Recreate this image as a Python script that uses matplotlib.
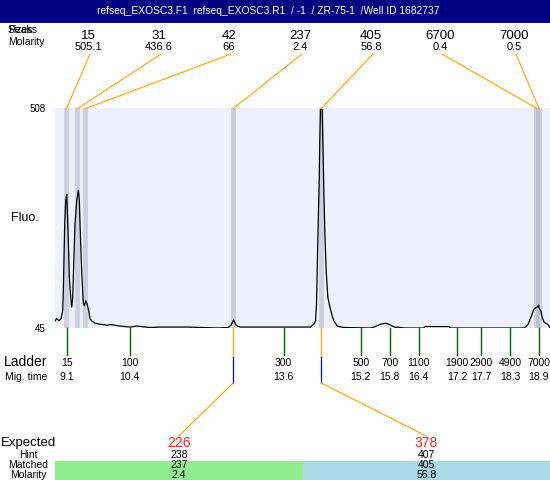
import matplotlib
matplotlib.use("Agg")
import matplotlib.pyplot as plt
from matplotlib.patches import Rectangle

plt.rcParams['font.family'] = ['Liberation Sans', 'DejaVu Sans']

# ---------------- data ----------------
title = "refseq_EXOSC3.F1  refseq_EXOSC3.R1  / -1  / ZR-75-1  /Well ID 1682737"

peak_sizes = ["15", "31", "42", "237", "405", "6700", "7000"]
peak_molarity = ["505.1", "436.6", "66", "2.4", "56.8", "0.4", "0.5"]
peak_times = [9.09, 9.32, 9.49, 12.55, 14.38, 18.86, 18.90]

ladder_sizes = ["15", "100", "300", "500", "700", "1100", "1900", "2900", "4900", "7000"]
ladder_times = [9.1, 10.4, 13.6, 15.2, 15.8, 16.4, 17.2, 17.7, 18.3, 18.9]
ladder_time_labels = ["9.1", "10.4", "13.6", "15.2", "15.8", "16.4", "17.2", "17.7", "18.3", "18.9"]

expected = ["226", "378"]
hint = ["238", "407"]
matched = ["237", "405"]
matched_molarity = ["2.4", "56.8"]
matched_peak_index = [3, 4]

trace_time = [8.850, 8.885, 8.933, 8.975, 9.010, 9.023, 9.037, 9.052, 9.073, 9.093,
              9.106, 9.127, 9.148, 9.177, 9.197, 9.218, 9.239, 9.266, 9.302, 9.335,
              9.356, 9.376, 9.406, 9.439, 9.460, 9.489, 9.516, 9.551, 9.578, 9.614,
              9.682, 9.786, 9.926, 10.030, 10.202, 10.411, 10.550, 10.827, 11.035, 11.597,
              12.221, 12.450, 12.512, 12.560, 12.616, 12.699, 13.323, 14.156, 14.224, 14.260,
              14.281, 14.295, 14.316, 14.337, 14.349, 14.364, 14.378, 14.399, 14.412, 14.433,
              14.453, 14.482, 14.516, 14.557, 14.607, 14.641, 14.711, 14.849, 15.404, 15.473,
              15.612, 15.716, 15.785, 15.856, 15.924, 15.960, 16.097, 16.513, 16.534, 17.033,
              17.069, 17.693, 18.594, 18.677, 18.719, 18.748, 18.790, 18.837, 18.873, 18.894,
              18.914, 18.941, 18.977, 19.010, 19.081, 19.135]
trace_fluo = [60, 65, 60, 65, 81, 123, 194, 265, 313, 326,
              292, 229, 151, 109, 89, 109, 180, 265, 313, 335,
              313, 244, 159, 96, 92, 102, 96, 81, 64, 60,
              55, 53, 51, 52, 49, 47, 49, 46, 47, 47,
              45, 46, 52, 62, 50, 47, 47, 47, 53, 60,
              95, 165, 265, 356, 440, 504, 506, 504, 440, 335,
              250, 165, 110, 90, 70, 60, 49, 46, 45, 47,
              53, 55, 53, 49, 46, 47, 45, 45, 48, 48,
              45, 45, 45, 53, 64, 71, 84, 88, 89, 93,
              84, 81, 64, 57, 53, 45]

y_min, y_max = 45, 508
x_min, x_max = 8.85, 19.13

# ---------------- figure ----------------
W, H = 550, 480
fig = plt.figure(figsize=(W / 100, H / 100), dpi=100)

ax = fig.add_axes([55 / W, 1 - 328 / H, 495 / W, 220 / H])
ax.set_xlim(x_min, x_max)
ax.set_ylim(y_min, y_max)
ax.set_facecolor('#f0f0fd')
for s in ax.spines.values():
    s.set_visible(False)
ax.set_xticks([])
ax.set_yticks([y_min, y_max])
ax.set_yticklabels([str(y_min), str(y_max)], fontsize=7)
ax.tick_params(axis='y', length=0, pad=7)

for t in peak_times:
    ax.axvspan(t - 0.055, t + 0.055, color='#b0b0c4', alpha=0.5, lw=0, zorder=1)
ax.plot(trace_time, trace_fluo, color='black', lw=0.9, zorder=3)

over = fig.add_axes([0, 0, 1, 1])
over.set_xlim(0, W)
over.set_ylim(H, 0)
over.axis('off')


def px(t):
    return ax.transData.transform((t, y_min))[0]


# header
over.add_patch(Rectangle((0, 0), W, 23, color='#000080', lw=0))
over.text(268, 11.5, title, color='white', fontsize=7.4, ha='center', va='center')

# top labels (the reference overlays two row captions here)
over.text(8, 30, "Peaks", fontsize=7.5, ha='left', va='center')
over.text(8, 30, "Sizes", fontsize=7.5, ha='left', va='center')
over.text(8, 42, "Molarity", fontsize=7.5, ha='left', va='center')
label_x = [88, 159, 229, 300, 371, 440, 514]
for lx, sz, mol, t in zip(label_x, peak_sizes, peak_molarity, peak_times):
    over.text(lx, 36, sz, fontsize=9.5, ha='center', va='center')
    over.text(lx, 47, mol, fontsize=8, ha='center', va='center')
    over.plot([lx + 2, px(t)], [54, 108.5], color='orange', lw=0.8)

# y label
over.text(25, 218, "Fluo.", fontsize=9, ha='center', va='center')

# ladder
over.text(26, 362, "Ladder", fontsize=10, ha='center', va='center')
over.text(26, 377, "Mig. time", fontsize=7.5, ha='center', va='center')
for t, sz, tl in zip(ladder_times, ladder_sizes, ladder_time_labels):
    x = px(t)
    over.plot([x, x], [328, 355], color='#006400', lw=1)
    over.text(x, 363, sz, fontsize=7.5, ha='center', va='center')
    over.text(x, 377, tl, fontsize=7.5, ha='center', va='center')

# matched table
col_w = (W - 55) / len(expected)
over.add_patch(Rectangle((55, 461), col_w, H - 461, color='#90ee90', lw=0))
over.add_patch(Rectangle((55 + col_w, 461), col_w, H - 461, color='#add8e6', lw=0))
over.text(28, 443, "Expected", fontsize=9.5, ha='center', va='center')
over.text(28, 455, "Hint", fontsize=7.5, ha='center', va='center')
over.text(28, 465, "Matched", fontsize=7.5, ha='center', va='center')
over.text(28, 475, "Molarity", fontsize=7.5, ha='center', va='center')
for j, (e, h, m, mm, pi) in enumerate(zip(expected, hint, matched, matched_molarity, matched_peak_index)):
    cx = 55 + col_w * (j + 0.5)
    over.text(cx, 443, e, fontsize=10, color='#ff2020', ha='center', va='center')
    over.text(cx, 455, h, fontsize=7.5, ha='center', va='center')
    over.text(cx, 465, m, fontsize=7.5, ha='center', va='center')
    over.text(cx, 475, mm, fontsize=7.5, ha='center', va='center')
    x = px(peak_times[pi])
    over.plot([x, x], [328, 357], color='orange', lw=0.9)
    over.plot([x, x], [357, 383], color='blue', lw=0.9)
    over.plot([x, cx], [383, 436], color='orange', lw=0.8)

fig.savefig("out.png", dpi=100)
